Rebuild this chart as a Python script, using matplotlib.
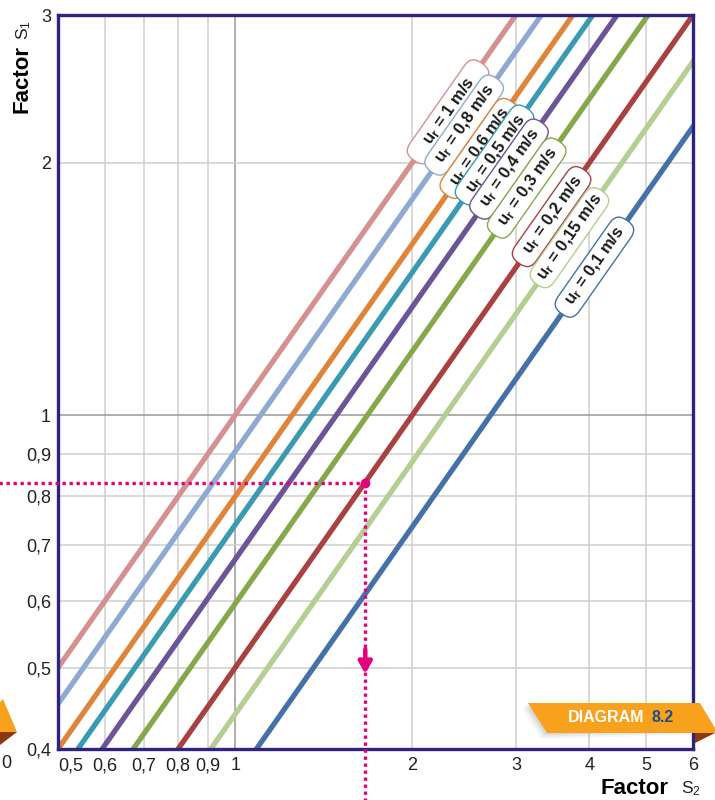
import numpy as np
import matplotlib.pyplot as plt
from matplotlib.patches import Polygon

plt.rcParams['font.family'] = ['Liberation Sans', 'DejaVu Sans']
plt.rcParams['mathtext.fontset'] = 'custom'
plt.rcParams['mathtext.rm'] = 'Liberation Sans'
plt.rcParams['mathtext.it'] = 'Liberation Sans:italic'
plt.rcParams['mathtext.bf'] = 'Liberation Sans:bold'

# stroomsnelheid u_r en bijbehorende verhouding S1 / S2
snelheden = ['1', '0,8', '0,6', '0,5', '0,4', '0,3', '0,2', '0,15', '0,1']
factoren = [1.0, 0.905, 0.80, 0.74, 0.673, 0.596, 0.50, 0.44, 0.368]
kleuren = ['#d4918f', '#8eaad2', '#e0843a', '#3a9ab2', '#6b5497',
           '#86a84a', '#a94140', '#b5ce92', '#4472a8']
label_s2 = [2.30, 2.45, 2.60, 2.76, 2.92, 3.13, 3.45, 3.70, 4.08]

x_ticks = [0.5, 0.6, 0.7, 0.8, 0.9, 1, 2, 3, 4, 5, 6]
x_labels = ['0,5', '0,6', '0,7', '0,8', '0,9', '1', '2', '3', '4', '5', '6']
y_ticks = [0.4, 0.5, 0.6, 0.7, 0.8, 0.9, 1, 2, 3]
y_labels = ['0,4', '0,5', '0,6', '0,7', '0,8', '0,9', '1', '2', '3']

# voorbeeld (stippellijn)
vb_s2, vb_s1 = 1.664, 0.83

W, H = 715, 800
fig = plt.figure(figsize=(W / 100, H / 100), dpi=100)
ax = fig.add_axes([58 / W, 1 - 749 / H, (693 - 58) / W, (749 - 15) / H])
ax.set_xscale('log')
ax.set_yscale('log')
ax.set_xlim(0.5, 6)
ax.set_ylim(0.4, 3)

ax.set_xticks(x_ticks)
ax.set_xticklabels(x_labels)
ax.set_yticks(y_ticks)
ax.set_yticklabels(y_labels)
ax.xaxis.set_minor_locator(plt.NullLocator())
ax.yaxis.set_minor_locator(plt.NullLocator())
ax.tick_params(length=0, labelsize=13, colors='#222222')
ax.tick_params(axis='x', pad=6)
ax.tick_params(axis='y', pad=5)
ax.get_xticklabels()[0].set_horizontalalignment('left')

for t in x_ticks[1:-1]:
    ax.axvline(t, color='#999999' if t == 1 else '#cfcfcf', lw=1.1, zorder=0)
for t in y_ticks[1:-1]:
    ax.axhline(t, color='#999999' if t == 1 else '#cfcfcf', lw=1.1, zorder=0)

for s in ax.spines.values():
    s.set_color('#2e2383')
    s.set_linewidth(2.4)
    s.set_zorder(5)

xs = np.array([0.3, 10])
for k, c in zip(factoren, kleuren):
    ax.plot(xs, k * xs, color=c, lw=3.8, solid_capstyle='butt', zorder=2)

# hoek van de lijnen op het scherm
p1 = ax.transData.transform((1, 1))
p2 = ax.transData.transform((2, 2))
hoek = np.degrees(np.arctan2(p2[1] - p1[1], p2[0] - p1[0]))

for v, k, c, xl in zip(snelheden, factoren, kleuren, label_s2):
    tekst = r'u$_\mathbf{r}$ = ' + v + ' m/s'
    opvul = ' ' * max(1, 5 - len(v))
    ax.text(xl, k * xl, opvul + tekst + opvul, rotation=hoek, rotation_mode='anchor',
            ha='center', va='center', fontsize=12, fontweight='bold', color='#1a1a1a',
            zorder=4,
            bbox=dict(boxstyle='round,pad=0.22,rounding_size=0.7', fc='white', ec=c, lw=1))

# voorbeeld stippellijn
roze = '#e6007e'
ax.plot([0.39, vb_s2], [vb_s1, vb_s1], color=roze, lw=2.4, ls=(0, (1, 1.1)),
        clip_on=False, zorder=6)
ax.plot([vb_s2, vb_s2], [vb_s1, 0.34], color=roze, lw=2.4, ls=(0, (1, 1.1)),
        clip_on=False, zorder=6)
ax.plot([vb_s2], [vb_s1], 'o', color=roze, ms=6, zorder=6)
ax.annotate('', xy=(vb_s2, 0.488), xytext=(vb_s2, 0.53),
            arrowprops=dict(arrowstyle='-|>,head_width=0.4,head_length=0.7',
                            color=roze, lw=3.2), zorder=7)

# aslabels
fig.text(22 / W, 1 - 79 / H, 'Factor', rotation=90, fontsize=16, fontweight='bold',
         ha='center', va='center')
fig.text(24 / W, 1 - 30 / H, r'S$_1$', rotation=90, fontsize=12.5,
         ha='center', va='center', color='#222222')
fig.text(668 / W, 1 - 789 / H, 'Factor', fontsize=16, fontweight='bold',
         ha='right', va='center')
fig.text(681 / W, 1 - 789 / H, r'S$_2$', fontsize=12.5,
         ha='left', va='center', color='#222222')

# badge rechtsonder
def px(pts):
    return [(x / W, 1 - y / H) for x, y in pts]

for i, a in enumerate([0.05, 0.08, 0.12]):
    d = 6 - 2 * i
    fig.add_artist(Polygon(px([(528 - d, 703 + d), (700, 703 + d), (715, 728 + d),
                               (547 - d, 733 + d)]),
                           closed=True, fc='#555555', ec='none', alpha=a))
fig.add_artist(Polygon(px([(695, 733), (715, 733), (695, 743)]), closed=True,
                       fc='#8a3a0a', ec='none'))
fig.add_artist(Polygon(px([(528, 703), (700, 703), (715, 728), (715, 733),
                           (547, 733)]), closed=True, fc='#f7a11d', ec='none'))
fig.text(606 / W, 1 - 718 / H, 'DIAGRAM', fontsize=11.5, fontweight='bold',
         color='white', ha='center', va='center')
fig.text(652 / W, 1 - 718 / H, '8.2', fontsize=11.5, fontweight='bold',
         color='#1c4f8c', ha='left', va='center')

# rand van de vorige pagina links
fig.add_artist(Polygon(px([(0, 732), (17, 732), (0, 745)]), closed=True,
                       fc='#8a3a0a', ec='none'))
fig.add_artist(Polygon(px([(0, 702), (3, 699), (17, 732), (0, 732)]), closed=True,
                       fc='#f7a11d', ec='none'))
fig.text(6 / W, 1 - 763 / H, '0', fontsize=13, color='#222222', ha='center', va='center')

fig.savefig('out.png', dpi=100)
